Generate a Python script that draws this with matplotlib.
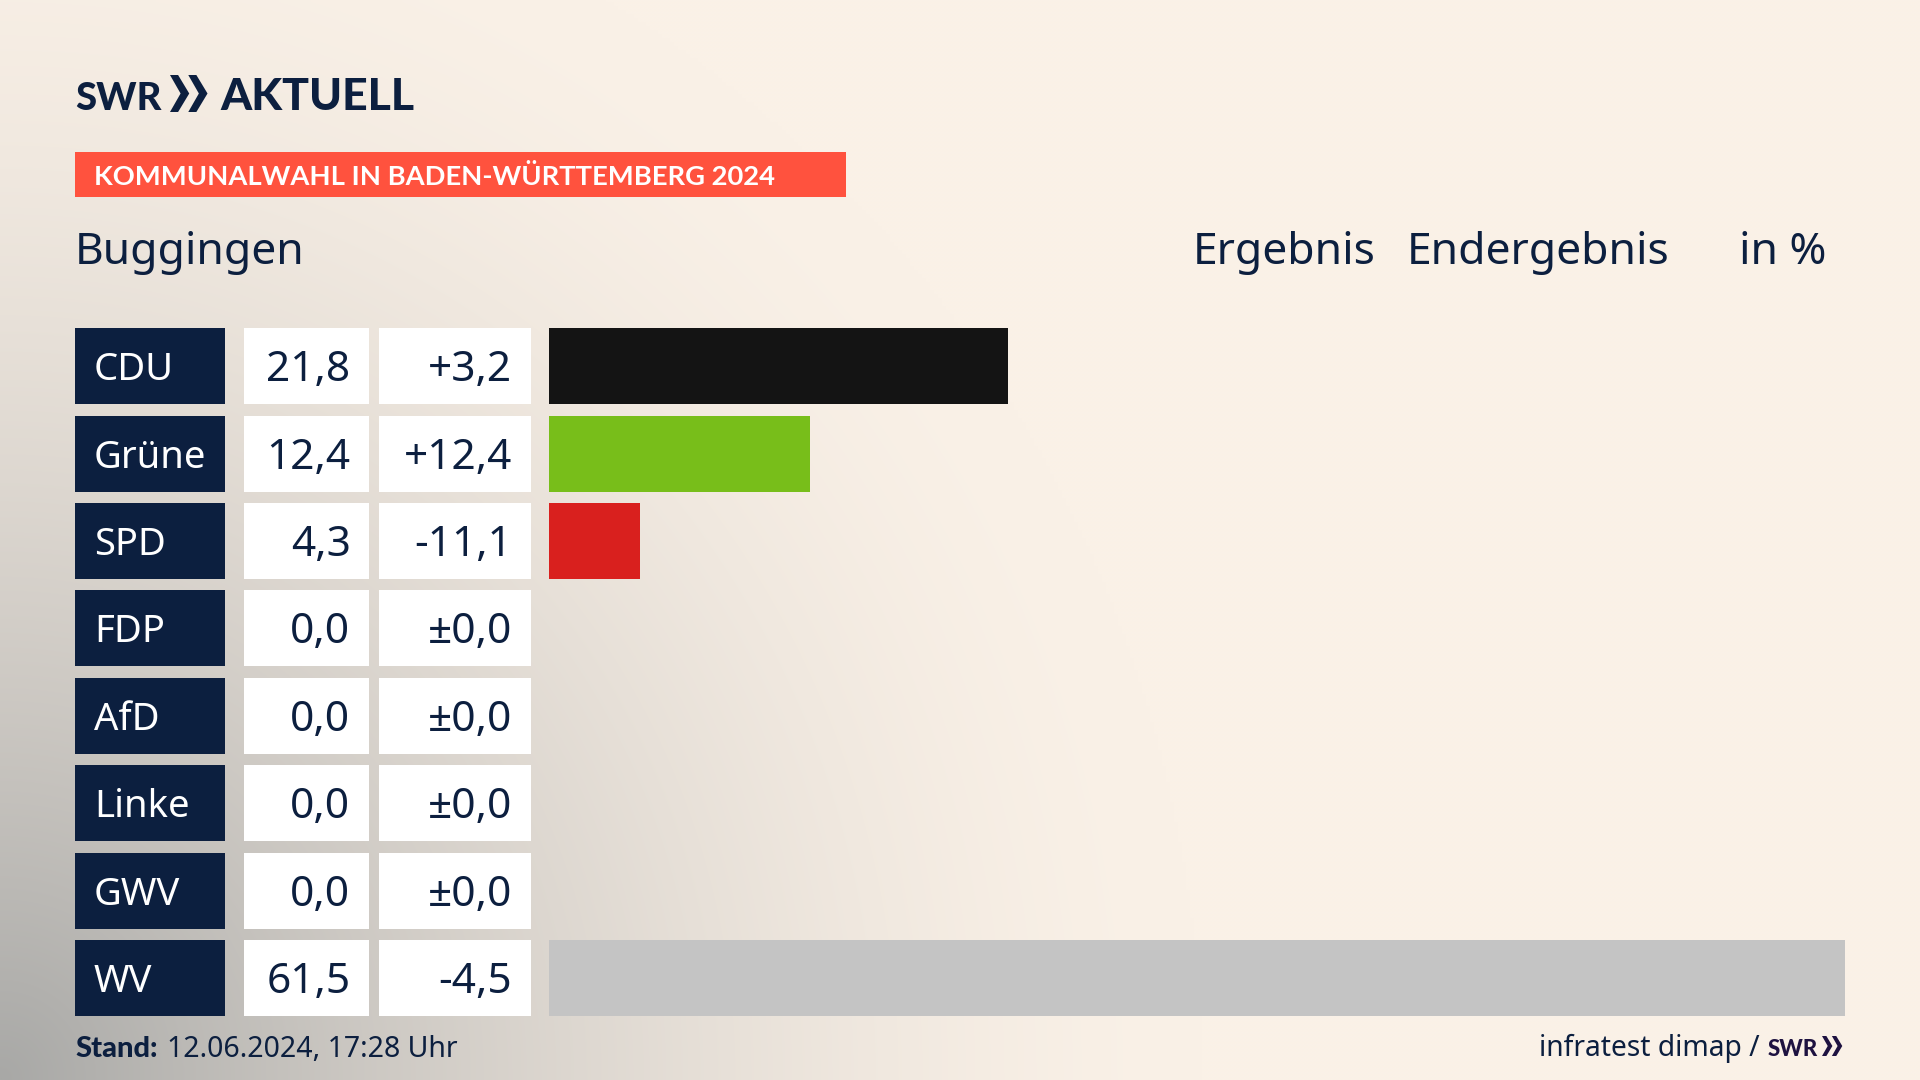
import numpy as np
import matplotlib
matplotlib.use("Agg")
import matplotlib.pyplot as plt
from matplotlib.patches import Rectangle, Polygon

parties = ["CDU", "Grüne", "SPD", "FDP", "AfD", "Linke", "GWV", "WV"]
results = [21.8, 12.4, 4.3, 0.0, 0.0, 0.0, 0.0, 61.5]
diffs = ["+3,2", "+12,4", "-11,1", "±0,0", "±0,0", "±0,0", "±0,0", "-4,5"]
colors = ["#141414", "#78BE1A", "#D9201E", "#888888", "#888888", "#888888", "#888888", "#C4C4C4"]

W, H = 1920, 1080
NAVY = "#0C1F3F"
FONT = "Noto Sans"
BOLD = "Lato"
fig = plt.figure(figsize=(W / 100, H / 100), dpi=100)

# page in pixel coordinates
page = fig.add_axes([0, 0, 1, 1])
page.set_xlim(0, W)
page.set_ylim(H, 0)
page.axis("off")

yy, xx = np.mgrid[0:H:270j, 0:W:480j]
t = np.sqrt((xx / 1200) ** 2 + ((H - yy) / 1250) ** 2)
a = np.clip(1 - t, 0, 1) ** 1.6
base = np.array([0xFA, 0xF1, 0xE7]) / 255
dark = np.array([0xA8, 0xA8, 0xA6]) / 255
bg = base[None, None, :] * (1 - a[..., None]) + dark[None, None, :] * a[..., None]
page.imshow(bg, extent=[0, W, H, 0], aspect="auto", interpolation="bilinear", zorder=0)
page.set_xlim(0, W)
page.set_ylim(H, 0)

ROW_TOP, PITCH, ROW_H = 328.1, 87.45, 76
for i, (p, r, d) in enumerate(zip(parties, results, diffs)):
    top = ROW_TOP + i * PITCH
    base_y = top + 53
    page.add_patch(Rectangle((75, top), 150, ROW_H, color=NAVY, lw=0))
    page.add_patch(Rectangle((244, top), 125, ROW_H, color="white", lw=0))
    page.add_patch(Rectangle((379, top), 152, ROW_H, color="white", lw=0))
    page.text(94, base_y - 1, p, color="white", fontsize=27.5, family=FONT, va="baseline")
    page.text(350.5, base_y, f"{r:.1f}".replace(".", ","), color=NAVY, fontsize=30.5, family=FONT, ha="right", va="baseline")
    page.text(512, base_y, d, color=NAVY, fontsize=30.5, family=FONT, ha="right", va="baseline")

# bars
ax = fig.add_axes([549 / W, 0, (1845 - 549) / W, 1])
ax.set_xlim(0, max(results))
ax.set_ylim(H, 0)
ax.axis("off")
ax.patch.set_alpha(0)
ax.barh([ROW_TOP + i * PITCH + ROW_H / 2 for i in range(len(parties))], results, height=ROW_H, color=colors, linewidth=0)

# logo
def chevrons(x, y, h, color):
    w = h * 0.52
    for dx in (0, w * 0.95):
        page.add_patch(Polygon([(x + dx, y), (x + dx + w * 0.42, y), (x + dx + w, y + h / 2),
                                (x + dx + w * 0.42, y + h), (x + dx, y + h), (x + dx + w * 0.55, y + h / 2)],
                               closed=True, color=color, lw=0))

page.text(75, 110, "SWR", color=NAVY, fontsize=27.5, family=BOLD, weight="black", va="baseline")
chevrons(170, 75, 37, NAVY)
page.text(220, 110, "AKTUELL", color=NAVY, fontsize=32, family=BOLD, weight="black", va="baseline")

# banner
page.add_patch(Rectangle((75, 152), 771, 45, color="#FF523E", lw=0))
page.text(94, 185, "KOMMUNALWAHL IN BADEN-WÜRTTEMBERG 2024", color="white", fontsize=19.7, family=BOLD, weight="bold", va="baseline")

# header
page.text(75, 264, "Buggingen", color=NAVY, fontsize=32, family=FONT, va="baseline")
page.text(1193, 264, "Ergebnis", color=NAVY, fontsize=32, family=FONT, va="baseline")
page.text(1406.5, 264, "Endergebnis", color=NAVY, fontsize=32, family=FONT, va="baseline")
page.text(1826, 264, "in %", color=NAVY, fontsize=32, family=FONT, ha="right", va="baseline")

# footer
page.text(75, 1057, "Stand:", color=NAVY, fontsize=21, family=BOLD, weight="black", va="baseline")
page.text(167, 1057, "12.06.2024, 17:28 Uhr", color=NAVY, fontsize=20.5, family=FONT, va="baseline")
page.text(1760, 1056, "infratest dimap /", color=NAVY, fontsize=20.3, family=FONT, ha="right", va="baseline")
page.text(1768, 1056, "SWR", color="#1E1240", fontsize=16, family=BOLD, weight="black", va="baseline")
chevrons(1822, 1036, 20, "#1E1240")

fig.savefig("out.png", dpi=100)
